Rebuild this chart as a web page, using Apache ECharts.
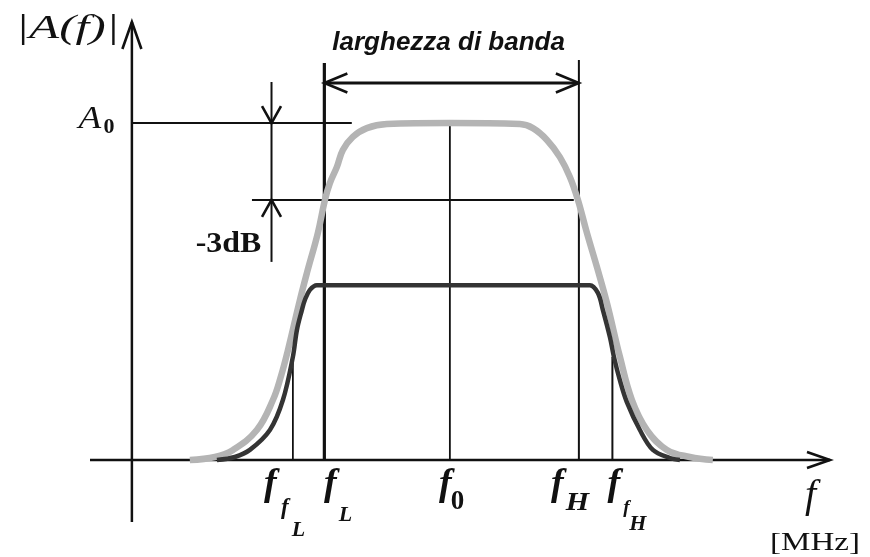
<!DOCTYPE html>
<html>
<head>
<meta charset="utf-8">
<script src="https://cdn.jsdelivr.net/npm/echarts@6/dist/echarts.min.js"></script>
<style>
  html, body { margin: 0; padding: 0; background: #fff; }
  #c { width: 870px; height: 557px; }
</style>
</head>
<body>
<div id="c"></div>
<script>
// ---- Diagram values (frequency in arbitrary units, gain relative to A0) ----
const A0 = 1.0;            // pass-band gain
const level3dB = 0.772;    // -3 dB level drawn on the diagram
const bandArrowY = 1.119;  // height of the bandwidth arrow
const dbArrowX = 20.0;     // x of the -3 dB dimension line

// Marker frequencies: f_fL, f_L, f_0, f_H, f_fH
const fMarkX   = [23.06, 27.57, 45.55, 64.03, 68.83];
const fMarkTop = [0.306, 1.178, 1.0, 1.187, 0.306];
const fSubs    = [['f', 'L'], ['L'], ['0'], ['H'], ['f', 'H']];

// Wide-band response (light curve)
const wideCurve = [
  [8.3, 0], [11.9, 0.009], [14.5, 0.03], [17.9, 0.089], [20.2, 0.178],
  [21.4, 0.252], [22.35, 0.326], [24.07, 0.475], [25.07, 0.555], [26.64, 0.674],
  [27.65, 0.772], [28.36, 0.822], [29.37, 0.87], [30.22, 0.92], [31.65, 0.959],
  [33.66, 0.985], [36.53, 0.997], [45.5, 1.0], [55.58, 0.997], [57.44, 0.985],
  [59.45, 0.95], [61.31, 0.899], [62.74, 0.84], [63.89, 0.772], [65.18, 0.674],
  [66.61, 0.573], [68.05, 0.466], [69.91, 0.306], [71.63, 0.178], [73.78, 0.089],
  [76.64, 0.03], [79.93, 0.009], [83.22, 0]
];

// Filtered response (dark curve)
const filteredCurve = [
  [12.18, 0], [14.75, 0.009], [16.9, 0.03], [19.77, 0.089], [21.63, 0.178],
  [23.06, 0.306], [23.64, 0.386], [24.35, 0.445], [24.78, 0.475], [25.5, 0.505],
  [26.5, 0.519], [45.5, 0.519], [65.6, 0.519], [66.75, 0.496], [67.47, 0.445],
  [68.47, 0.365], [69.05, 0.306], [69.9, 0.237], [70.9, 0.172], [72.77, 0.089],
  [74.63, 0.03], [77.07, 0.006], [78.5, 0]
];

// Axis extents
const xStart = -6, xEnd = 100;
const yBottom = -0.184, yTop = 1.3;

// Texts
const yTitle = '|A(f)|';
const xTitle = 'f';
const xUnit = '[MHz]';
const gainLabel = ['A', '0'];
const dropLabel = '-3dB';
const bandLabel = 'larghezza di banda';

// ---- Drawing ----
const SERIF = '"Liberation Serif", "Times New Roman", serif';
const SANS = '"Liberation Sans", Arial, sans-serif';
const INK = '#111';

function segment(x1, y1, x2, y2, width) {
  return {
    type: 'line', data: [[x1, y1], [x2, y2]], symbol: 'none', silent: true,
    animation: false, z: 1, clip: false,
    lineStyle: { color: INK, width: width, cap: 'butt' }
  };
}

function txt(px, py, text, font, sx) {
  return {
    type: 'text', x: px, y: py, scaleX: sx || 1,
    style: {
      x: 0, y: 0, text: text, font: font, fill: INK,
      align: 'center', verticalAlign: 'middle',
      textAlign: 'center', textVerticalAlign: 'middle'
    }
  };
}

const fBig = 'bold italic 38px ' + SERIF;
const fSmall = 'bold italic 23px ' + SERIF;
const subBI = 'bold italic 22px ' + SERIF;

// label pieces below each marker: [dx, dy, font, scaleX]
const tickLayout = [
  [[-22.5, 25, fBig], [-8, 48, fSmall], [5.5, 70.5, subBI]],
  [[6, 25, fBig], [21, 55.5, subBI]],
  [[-4.5, 25, fBig], [7.5, 42.5, 'bold 27px ' + SERIF]],
  [[-21.5, 25, fBig], [-1.5, 43.5, 'bold italic 25px ' + SERIF, 1.2]],
  [[1.5, 25, fBig], [14, 48, 'bold italic 19px ' + SERIF], [25.5, 64.5, subBI]]
];

// arrowheads: tip position and direction
const arrowTips = [[0, yTop], [xEnd, 0], [fMarkX[1], bandArrowY], [fMarkX[3], bandArrowY], [dbArrowX, A0], [dbArrowX, level3dB]];
const arrowDirs = ['up', 'right', 'left', 'right', 'down', 'up'];
const arrowShape = [[27, 9.5], [23, 8], [23, 9.5], [23, 9.5], [17, 9.5], [17, 9.5]];

const series = [];

// axes
series.push(segment(0, yBottom, 0, yTop, 2.5));
series.push(segment(xStart, 0, xEnd, 0, 2.5));

// marker verticals
const markWidths = [1.8, 3.2, 1.8, 2.0, 2.0];
fMarkX.forEach((x, i) => series.push(segment(x, 0, x, fMarkTop[i], markWidths[i])));

// A0 reference, -3 dB reference and dimension lines
series.push(segment(0, A0, 31.5, A0, 2));
series.push(segment(17.2, level3dB, 63.3, level3dB, 2));
series.push(segment(dbArrowX, 0.588, dbArrowX, 1.122, 2));
series.push(segment(fMarkX[1], bandArrowY, fMarkX[3], bandArrowY, 2.8));

// response curves
series.push({
  type: 'line', data: wideCurve, symbol: 'none', smooth: 0.4, silent: true,
  animation: false, z: 3,
  lineStyle: { color: '#b4b4b4', width: 6.5, join: 'round' }
});
series.push({
  type: 'line', data: filteredCurve, symbol: 'none', smooth: 0.35, silent: true,
  animation: false, z: 4,
  lineStyle: { color: '#343434', width: 4.5, join: 'round' }
});

// arrowheads
series.push({
  type: 'custom', data: arrowTips, silent: true, animation: false, clip: false, z: 5,
  encode: { x: 0, y: 1 },
  renderItem: function (params, api) {
    const p = api.coord([api.value(0), api.value(1)]);
    const d = arrowDirs[params.dataIndex];
    const l = arrowShape[params.dataIndex][0], w = arrowShape[params.dataIndex][1];
    let pts;
    if (d === 'up') pts = [[p[0] - w, p[1] + l], p, [p[0] + w, p[1] + l]];
    else if (d === 'down') pts = [[p[0] - w, p[1] - l], p, [p[0] + w, p[1] - l]];
    else if (d === 'right') pts = [[p[0] - l, p[1] - w], p, [p[0] - l, p[1] + w]];
    else pts = [[p[0] + l, p[1] - w], p, [p[0] + l, p[1] + w]];
    return { type: 'polyline', shape: { points: pts }, style: { stroke: INK, lineWidth: 2.6, fill: null, lineJoin: 'miter' } };
  }
});

// marker labels under the frequency axis
series.push({
  type: 'custom', data: fMarkX.map(x => [x, 0]), silent: true, animation: false, clip: false, z: 6,
  encode: { x: 0, y: 1 },
  renderItem: function (params, api) {
    const p = api.coord([api.value(0), api.value(1)]);
    const pieces = tickLayout[params.dataIndex];
    const texts = ['f'].concat(fSubs[params.dataIndex]);
    return {
      type: 'group',
      children: pieces.map((pc, k) => txt(p[0] + pc[0], p[1] + pc[1], texts[k], pc[2], pc[3]))
    };
  }
});

// titles and annotation texts, anchored to diagram points
const annotAnchors = [[0, yTop], [0, A0], [dbArrowX, level3dB], [(fMarkX[1] + fMarkX[3]) / 2, bandArrowY], [xEnd, 0]];
series.push({
  type: 'custom', data: annotAnchors, silent: true, animation: false, clip: false, z: 6,
  encode: { x: 0, y: 1 },
  renderItem: function (params, api) {
    const p = api.coord([api.value(0), api.value(1)]);
    const i = params.dataIndex;
    let children;
    if (i === 0) children = [txt(p[0] - 64.5, p[1] + 7, yTitle, 'italic 34px ' + SERIF, 1.45)];
    else if (i === 1) children = [
      txt(p[0] - 42, p[1] - 3, gainLabel[0], 'italic 31px ' + SERIF, 1.2),
      txt(p[0] - 23, p[1] + 4.5, gainLabel[1], 'bold 22px ' + SERIF)
    ];
    else if (i === 2) children = [txt(p[0] - 43, p[1] + 45, dropLabel, 'bold 29px ' + SERIF, 1.1)];
    else if (i === 3) children = [txt(p[0] - 3, p[1] - 40, bandLabel, 'bold italic 26px ' + SANS)];
    else children = [
      txt(p[0] - 19.5, p[1] + 36, xTitle, 'italic 40px ' + SERIF),
      txt(p[0] - 15, p[1] + 83, xUnit, '26px ' + SERIF, 1.27)
    ];
    return { type: 'group', children: children };
  }
});

const chart = echarts.init(document.getElementById('c'));
chart.setOption({
  backgroundColor: '#ffffff',
  animation: false,
  grid: { left: 90, right: 40, top: 22, bottom: 29.6 },
  xAxis: { type: 'value', min: xStart, max: xEnd, show: false },
  yAxis: { type: 'value', min: -0.2, max: yTop, show: false },
  series: series
});
</script>
</body>
</html>
